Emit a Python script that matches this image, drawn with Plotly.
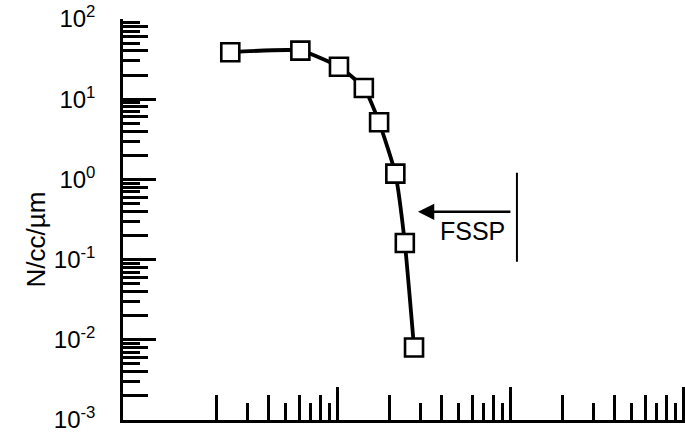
import numpy as np
import plotly.graph_objects as go

# Size distribution: particle diameter (um) and number density (N/cc/um)
diameter = [0.024, 0.061, 0.102, 0.142, 0.174, 0.216, 0.245, 0.277]
concentration = [38.5, 40.3, 25.4, 13.8, 5.15, 1.18, 0.161, 0.0080]

# FSSP size limit marker
fssp_limit = 1.09
fssp_bar = [0.094, 1.21]
fssp_arrow_tip = 0.292
fssp_arrow_tail = 1.02
fssp_arrow_level = 0.395
fssp_label_pos = (0.607, 0.228)

# Axis extents (log10 units) and tick sets
x_range = [-2.240, 1.009]
y_range = [-3, 2]
x_decades = [0.1, 1, 10]
x_even = [m * d for d in (0.01, 0.1, 1) for m in (2, 4, 6, 8)]
x_odd = [m * d for d in (0.01, 0.1, 1) for m in (3, 5, 7, 9)]
y_decade_exp = [-3, -2, -1, 0, 1, 2]
y_decades = [10.0 ** e for e in y_decade_exp]
y_labels = ["10<sup>%d</sup>" % e for e in y_decade_exp]
y_even = [m * 10.0 ** e for e in range(-3, 2) for m in (2, 4, 6, 8)]
y_odd = [m * 10.0 ** e for e in range(-3, 2) for m in (3, 5, 7, 9)]
y_title = "N/cc/µm"

FONT = "Liberation Sans, Arial, sans-serif"
INK = "black"
TW = 2.5

fig = go.Figure()

fig.add_trace(go.Scatter(
    x=diameter, y=concentration, mode="lines+markers",
    line=dict(color=INK, width=3.8, shape="spline", smoothing=0.5),
    marker=dict(symbol="square", size=18, color="white",
                line=dict(color=INK, width=2.6)),
    showlegend=False, hoverinfo="skip",
))

# transparent copy so the overlaid tick axes get drawn
fig.add_trace(go.Scatter(
    x=diameter, y=concentration, mode="markers", xaxis="x2", yaxis="y2",
    marker=dict(opacity=0), showlegend=False, hoverinfo="skip",
))

# vertical FSSP bar
fig.add_trace(go.Scatter(
    x=[fssp_limit, fssp_limit], y=fssp_bar, mode="lines",
    line=dict(color=INK, width=2), showlegend=False, hoverinfo="skip",
))

fig.add_annotation(
    x=np.log10(fssp_arrow_tip), y=np.log10(fssp_arrow_level),
    ax=np.log10(fssp_arrow_tail), ay=np.log10(fssp_arrow_level),
    xref="x", yref="y", axref="x", ayref="y",
    text="", showarrow=True, arrowhead=2, arrowsize=1.3,
    arrowwidth=2.5, arrowcolor=INK,
)
fig.add_annotation(
    x=np.log10(fssp_label_pos[0]), y=np.log10(fssp_label_pos[1]),
    xref="x", yref="y", text="FSSP", showarrow=False,
    xanchor="center", yanchor="middle",
    font=dict(family=FONT, size=25, color=INK),
)

# y-axis title, rotated
fig.add_annotation(
    x=-0.155, y=0.45, xref="paper", yref="paper", text=y_title,
    textangle=-90, showarrow=False, xanchor="center", yanchor="middle",
    font=dict(family=FONT, size=26, color=INK),
)

common = dict(type="log", showgrid=False, zeroline=False, ticks="inside",
              tickcolor=INK, tickwidth=TW)
minor_x = dict(ticks="inside", tickmode="array", tickvals=x_even,
               ticklen=25, tickcolor=INK, tickwidth=TW, showgrid=False)
minor_y = dict(ticks="inside", tickmode="array", tickvals=y_even,
               ticklen=25, tickcolor=INK, tickwidth=TW, showgrid=False)

fig.update_layout(
    width=685, height=438,
    margin=dict(l=123, r=0, t=19, b=18),
    paper_bgcolor="white", plot_bgcolor="white",
    font=dict(family=FONT, color=INK),
    xaxis=dict(**common, range=x_range, tickmode="array", tickvals=x_decades,
               ticklen=33, showticklabels=False, showline=True,
               linecolor=INK, linewidth=TW, minor=minor_x),
    xaxis2=dict(**common, range=x_range, overlaying="x", anchor="y2",
                tickmode="array", tickvals=x_odd, ticklen=17,
                showticklabels=False, showline=False),
    yaxis=dict(**common, range=y_range, tickmode="array", tickvals=y_decades,
               ticktext=y_labels, ticklen=33, showline=True,
               linecolor=INK, linewidth=TW, ticklabelstandoff=20,
               minor=minor_y,
               tickfont=dict(family=FONT, size=24, color=INK)),
    yaxis2=dict(**common, range=y_range, overlaying="y", anchor="x2",
                tickmode="array", tickvals=y_odd, ticklen=17,
                showticklabels=False, showline=False),
)

fig.write_html("out.html")
